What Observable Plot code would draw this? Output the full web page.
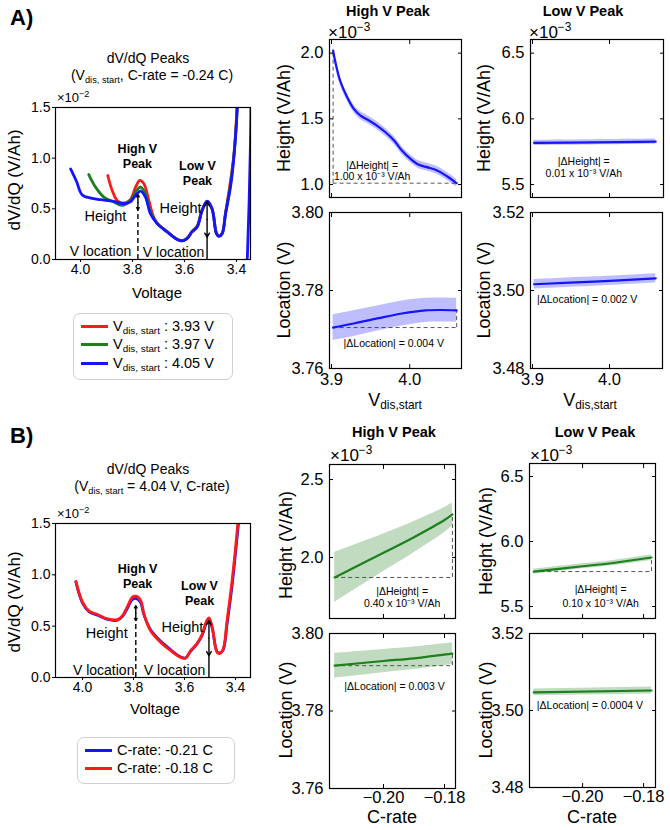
<!DOCTYPE html>
<html>
<head>
<meta charset="utf-8">
<script src="https://cdn.jsdelivr.net/npm/d3@7"></script>
<script src="https://cdn.jsdelivr.net/npm/@observablehq/plot@0.6"></script>
<style>
html,body{margin:0;padding:0;background:#fff;}
#root{position:relative;width:670px;height:830px;overflow:hidden;font-family:"Liberation Sans",Arial,Helvetica,sans-serif;color:#000;}
.t{position:absolute;white-space:nowrap;line-height:1.0;}
.t sub{font-size:0.66em;vertical-align:baseline;position:relative;top:0.28em;}
.t sup{font-size:0.7em;vertical-align:baseline;position:relative;top:-0.6em;}
.legend{position:absolute;border:1px solid #d0d0d0;border-radius:7px;background:#fff;box-sizing:border-box;}
.row{position:absolute;display:flex;align-items:center;font-size:14.5px;white-space:nowrap;line-height:1;}
.row sub{font-size:0.68em;vertical-align:baseline;position:relative;top:0.3em;}
.sw{display:inline-block;width:27px;height:3px;margin-right:5px;}
svg.p{position:absolute;overflow:visible;max-width:none;}
</style>
</head>
<body><div id="root"></div>
<script>
const FONT = '"Liberation Sans", Arial, Helvetica, sans-serif';
const colRed = "#ff1a1a", colGreen = "#1d7f1d", colBlue = "#1414ff";

// ---------- Panel A (left): dV/dQ (x10^-2 V/Ah) vs Voltage, C-rate = -0.24 C ----------
const curveA_393 = [[3.895,0.829],[3.878,0.681],[3.859,0.583],[3.833,0.557],[3.808,0.59],[3.788,0.714],[3.772,0.78],[3.756,0.747],[3.737,0.583],[3.72,0.43],[3.705,0.36],[3.667,0.278],[3.628,0.2],[3.609,0.186],[3.59,0.21],[3.571,0.278],[3.551,0.33],[3.532,0.49],[3.513,0.57],[3.494,0.5],[3.477,0.26],[3.468,0.232],[3.455,0.26],[3.442,0.46],[3.425,0.74],[3.41,1.03],[3.398,1.5],[3.392,2.0]];
const curveA_397 = [[3.968,0.838],[3.942,0.714],[3.91,0.616],[3.872,0.567],[3.84,0.534],[3.808,0.583],[3.782,0.688],[3.769,0.714],[3.75,0.649],[3.731,0.47],[3.705,0.357],[3.667,0.275],[3.628,0.199],[3.609,0.185],[3.59,0.208],[3.571,0.275],[3.551,0.325],[3.532,0.487],[3.513,0.573],[3.494,0.5],[3.477,0.257],[3.468,0.23],[3.455,0.257],[3.442,0.455],[3.424,0.725],[3.41,1.02],[3.397,1.5],[3.391,2.0]];
const curveA_405 = [[4.038,0.894],[4.015,0.77],[3.994,0.64],[3.96,0.605],[3.923,0.59],[3.872,0.573],[3.833,0.55],[3.808,0.57],[3.788,0.632],[3.769,0.675],[3.75,0.616],[3.731,0.452],[3.705,0.354],[3.667,0.272],[3.628,0.197],[3.609,0.183],[3.59,0.206],[3.571,0.272],[3.551,0.321],[3.532,0.485],[3.513,0.576],[3.494,0.501],[3.477,0.255],[3.468,0.229],[3.455,0.255],[3.442,0.452],[3.423,0.714],[3.41,1.009],[3.397,1.5],[3.39,2.6],[3.366,2.6],[3.363,-0.3]];
const legendA = ["3.93 V","3.97 V","4.05 V"];

// ---------- Panel B (left): dV/dQ vs Voltage, Vdis,start = 4.04 V ----------
const curveB_021 = [[4.026,0.93],[4.0,0.725],[3.974,0.64],[3.941,0.607],[3.902,0.565],[3.863,0.558],[3.843,0.595],[3.824,0.675],[3.804,0.76],[3.791,0.77],[3.772,0.73],[3.759,0.61],[3.733,0.465],[3.693,0.352],[3.654,0.27],[3.615,0.2],[3.596,0.19],[3.576,0.255],[3.55,0.33],[3.53,0.415],[3.513,0.54],[3.504,0.568],[3.491,0.48],[3.472,0.25],[3.461,0.24],[3.448,0.27],[3.433,0.52],[3.413,0.9],[3.393,1.38],[3.38,1.7]];
const curveB_018 = [[4.026,0.936],[4.0,0.734],[3.974,0.646],[3.941,0.613],[3.902,0.571],[3.863,0.564],[3.843,0.603],[3.824,0.691],[3.804,0.783],[3.791,0.792],[3.772,0.75],[3.759,0.62],[3.733,0.456],[3.693,0.342],[3.654,0.261],[3.615,0.196],[3.596,0.189],[3.576,0.261],[3.55,0.333],[3.53,0.424],[3.513,0.554],[3.504,0.58],[3.491,0.489],[3.472,0.245],[3.461,0.235],[3.448,0.277],[3.433,0.554],[3.413,0.946],[3.393,1.435],[3.385,1.7]];
const legendB = ["C-rate: -0.21 C","C-rate: -0.18 C"];

// ---------- Panel A right: peak metrics vs Vdis,start ----------
const vdisHighHeight = [3.902,3.905,3.911,3.92,3.9285,3.937,3.948,3.958,3.969,3.98,3.99,4.001,4.011,4.022,4.035,4.048,4.058,4.06];
const highHeightA = [2.02,1.93,1.79,1.665,1.576,1.525,1.487,1.449,1.398,1.335,1.259,1.195,1.152,1.132,1.107,1.061,1.018,1.01];
const highHeightAErr = [0.035,0.033,0.031,0.03,0.03,0.03,0.03,0.03,0.03,0.03,0.03,0.03,0.03,0.03,0.03,0.03,0.03,0.03];
const vdisHighLoc = [3.902,3.93,3.96,3.99,4.02,4.04,4.06];
const highLocA = [3.7705,3.7716,3.7729,3.7741,3.7749,3.775,3.7749];
const highLocAErr = [0.0033,0.0033,0.0032,0.0032,0.0031,0.0031,0.0031];
const vdisLow = [3.902,3.98,4.06];
const lowHeightA = [5.817,5.821,5.826];
const lowHeightAErr = [0.02,0.02,0.02];
const lowLocA = [3.5016,3.5023,3.5031];
const lowLocAErr = [0.0012,0.0012,0.0012];

// ---------- Panel B right: peak metrics vs C-rate ----------
const crateHigh = [-0.216,-0.2,-0.19,-0.18,-0.1774];
const highHeightB = [1.872,2.03,2.13,2.24,2.276];
const highHeightBErr = [0.16,0.12,0.1,0.08,0.073];
const crateHighLoc = [-0.216,-0.2,-0.19,-0.1774];
const highLocB = [3.7917,3.7929,3.7936,3.7948];
const highLocBErr = [0.0032,0.003,0.0029,0.0028];
const crateLowHeight = [-0.216,-0.2,-0.19,-0.1774];
const lowHeightB = [5.769,5.81,5.835,5.877];
const lowHeightBErr = [0.02,0.02,0.02,0.022];
const crateLowLoc = [-0.216,-0.1774];
const lowLocB = [3.5047,3.5052];
const lowLocBErr = [0.0009,0.0009];

// tick values
const voltTicks = [4.0,3.8,3.6,3.4];
const dvdqTicks = [0,0.5,1.0,1.5];
const vdisTicks = [3.9,4.0];
const crateTicks = [-0.20,-0.18];

const root = document.getElementById("root");
const f1 = d3.format(".1f"), f2 = d3.format(".2f");

function txt(html, x, y, o = {}) {
  const d = document.createElement("div");
  d.className = "t";
  d.innerHTML = html;
  d.style.left = x + "px"; d.style.top = y + "px";
  d.style.fontSize = (o.size || 14) + "px";
  if (o.bold) d.style.fontWeight = "bold";
  const tx = o.anchor === "start" ? "0" : o.anchor === "end" ? "-100%" : "-50%";
  d.style.transform = `translate(${tx},-50%)` + (o.rotate ? ` rotate(${o.rotate}deg)` : "");
  root.appendChild(d);
}

function panel(o) {
  const ml = o.ml ?? 48, mr = 8, mt = 8, mb = o.mb ?? 28;
  const W = o.x1 - o.x0 + ml + mr, H = o.y1 - o.y0 + mt + mb;
  const inward = o.inward !== false;
  const ts = inward ? -4 : 3;
  const fs = o.fs ?? 16.5;
  const blank = () => "";
  const marks = [
    ...o.marks,
    Plot.frame({stroke: "#000", strokeWidth: 1.2}),
    Plot.axisY({anchor: "left", ticks: o.yTicks, tickFormat: o.yFmt, tickSize: ts, tickPadding: o.yPad, label: null, fontSize: fs}),
    Plot.axisX({anchor: "bottom", ticks: o.xTicks, tickFormat: o.showX ? o.xFmt : blank, tickSize: ts, tickPadding: o.xPad, label: null, fontSize: fs})
  ];
  if (inward) {
    marks.push(
      Plot.axisY({anchor: "right", ticks: o.yTicks, tickFormat: blank, tickSize: ts, label: null}),
      Plot.axisX({anchor: "top", ticks: o.xTicks, tickFormat: blank, tickSize: ts, label: null})
    );
  }
  const svg = Plot.plot({
    width: W, height: H, marginLeft: ml, marginRight: mr, marginTop: mt, marginBottom: mb,
    x: {domain: o.xDomain}, y: {domain: o.yDomain},
    style: {fontFamily: FONT, fontSize: fs + "px", background: "transparent", color: "#000", overflow: "visible"},
    marks
  });
  svg.classList.add("p");
  svg.style.left = (o.x0 - ml) + "px";
  svg.style.top = (o.y0 - mt) + "px";
  root.appendChild(svg);
}

function rows(xs, ys, es) { return xs.map((x, i) => ({x, y: ys[i], lo: ys[i] - es[i], hi: ys[i] + es[i]})); }
function bandMarks(data, color) {
  return [
    Plot.areaY(data, {x: "x", y1: "lo", y2: "hi", fill: color, fillOpacity: 0.28, curve: "catmull-rom"}),
    Plot.line(data, {x: "x", y: "y", stroke: color, strokeWidth: 2.2, curve: "catmull-rom"})
  ];
}
function deltaMarks(xs, ys, vertAt) {
  const xmin = d3.min(xs), xmax = d3.max(xs), ymin = d3.min(ys);
  const xv = vertAt === "start" ? xs[0] : xs[xs.length - 1];
  const yv = vertAt === "start" ? ys[0] : ys[ys.length - 1];
  const dash = {stroke: "#555", strokeWidth: 1, strokeDasharray: "4,3"};
  return [
    Plot.ruleY([ymin], {x1: xmin, x2: xmax, ...dash}),
    Plot.ruleX([xv], {y1: ymin, y2: yv, ...dash})
  ];
}
const ann = (s, x, y, size = 10.5) => Plot.text([s], {x: () => x, y: () => y, text: d => d, fontSize: size, fill: "#000", textAnchor: "middle", lineAnchor: "middle"});

function peakAnnotations(hv, hvLow, hvTop, lv, lvLow, lvTop, labels) {
  const dash = {stroke: "#000", strokeWidth: 1.4};
  const hmid = (hvLow + hvTop) / 2, lmid = (lvLow + lvTop) / 2;
  return [
    Plot.ruleX([hv], {y1: 0, y2: hvLow, ...dash, strokeDasharray: "5,3"}),
    Plot.arrow([0], {x1: hv, y1: hmid, x2: hv, y2: hvTop, ...dash, headLength: 5}),
    Plot.arrow([0], {x1: hv, y1: hmid, x2: hv, y2: hvLow, ...dash, headLength: 5}),
    Plot.ruleX([lv], {y1: 0, y2: lvLow, ...dash}),
    Plot.arrow([0], {x1: lv, y1: lmid, x2: lv, y2: lvTop, ...dash, headLength: 5}),
    Plot.arrow([0], {x1: lv, y1: lmid, x2: lv, y2: lvLow, ...dash, headLength: 5}),
    ...labels.map(l => Plot.text([l.t], {x: () => l.x, y: () => l.y, text: d => d, fontSize: l.s, fontWeight: l.b ? "bold" : "normal", fill: "#000", textAnchor: "middle", lineAnchor: "middle", lineHeight: 1.2}))
  ];
}

// ================= Panel A left =================
panel({
  x0: 55, y0: 107, x1: 250, y1: 259, ml: 40, mb: 24, inward: false, fs: 14,
  xDomain: [4.096, 3.346], yDomain: [0, 1.5],
  xTicks: voltTicks, yTicks: dvdqTicks, xFmt: f1, yFmt: f1, showX: true, xPad: 2, yPad: 2,
  marks: [
    Plot.line(curveA_393, {x: d => d[0], y: d => d[1], stroke: colRed, strokeWidth: 2.8, curve: "catmull-rom", clip: true}),
    Plot.line(curveA_397, {x: d => d[0], y: d => d[1], stroke: colGreen, strokeWidth: 2.8, curve: "catmull-rom", clip: true}),
    Plot.line(curveA_405, {x: d => d[0], y: d => d[1], stroke: colBlue, strokeWidth: 2.8, curve: "catmull-rom", clip: true}),
    ...peakAnnotations(3.779, 0.49, 0.64, 3.513, 0.22, 0.57, [
      {t: "High V\nPeak", x: 3.781, y: 1.027, s: 12.5, b: true},
      {t: "Low V\nPeak", x: 3.55, y: 0.855, s: 12.5, b: true},
      {t: "Height", x: 3.904, y: 0.434, s: 14.5},
      {t: "Height", x: 3.615, y: 0.513, s: 14.5},
      {t: "V location", x: 3.923, y: 0.089, s: 14},
      {t: "V location", x: 3.642, y: 0.079, s: 14}
    ])
  ]
});

// ================= Panel B left =================
panel({
  x0: 55, y0: 523, x1: 250, y1: 677, ml: 40, mb: 24, inward: false, fs: 14,
  xDomain: [4.106, 3.341], yDomain: [0, 1.5],
  xTicks: voltTicks, yTicks: dvdqTicks, xFmt: f1, yFmt: f1, showX: true, xPad: 2, yPad: 2,
  marks: [
    Plot.line(curveB_021, {x: d => d[0], y: d => d[1], stroke: colBlue, strokeWidth: 2.8, curve: "catmull-rom", clip: true}),
    Plot.line(curveB_018, {x: d => d[0], y: d => d[1], stroke: colRed, strokeWidth: 2.8, curve: "catmull-rom", clip: true}),
    ...peakAnnotations(3.791, 0.554, 0.70, 3.504, 0.212, 0.554, [
      {t: "High V\nPeak", x: 3.784, y: 0.993, s: 12.5, b: true},
      {t: "Low V\nPeak", x: 3.541, y: 0.828, s: 12.5, b: true},
      {t: "Height", x: 3.905, y: 0.438, s: 14.5},
      {t: "Height", x: 3.608, y: 0.497, s: 14.5},
      {t: "V location", x: 3.917, y: 0.078, s: 14},
      {t: "V location", x: 3.639, y: 0.078, s: 14}
    ])
  ]
});

// ================= A: High V height =================
const rAhh = rows(vdisHighHeight, highHeightA, highHeightAErr);
panel({
  x0: 329, y0: 39, x1: 461, y1: 197,
  xDomain: [3.8974, 4.0662], yDomain: [0.901, 2.104],
  xTicks: vdisTicks, yTicks: [1.0, 1.5, 2.0], xFmt: f1, yFmt: f1, showX: false, xPad: 9, yPad: 10,
  marks: [...deltaMarks(vdisHighHeight, highHeightA, "start"), ...bandMarks(rAhh, colBlue),
    ann("|ΔHeight| =", 3.952, 1.145), ann("1.00 x 10⁻³ V/Ah", 3.952, 1.061)]
});
// A: High V location
const rAhl = rows(vdisHighLoc, highLocA, highLocAErr);
panel({
  x0: 329, y0: 212, x1: 461, y1: 368,
  xDomain: [3.8974, 4.0662], yDomain: [3.76, 3.80],
  xTicks: vdisTicks, yTicks: [3.76, 3.78, 3.80], xFmt: f1, yFmt: f2, showX: true, xPad: 9, yPad: 10,
  marks: [...deltaMarks(vdisHighLoc, highLocA, "end"), ...bandMarks(rAhl, colBlue),
    ann("|ΔLocation| = 0.004 V", 3.9796, 3.7665)]
});
// A: Low V height
const rAlh = rows(vdisLow, lowHeightA, lowHeightAErr);
panel({
  x0: 530, y0: 39, x1: 663, y1: 197,
  xDomain: [3.8974, 4.0701], yDomain: [5.401, 6.604],
  xTicks: vdisTicks, yTicks: [5.5, 6.0, 6.5], xFmt: f1, yFmt: f1, showX: false, xPad: 9, yPad: 10,
  marks: [...bandMarks(rAlh, colBlue),
    ann("|ΔHeight| =", 3.9666, 5.675), ann("0.01 x 10⁻³ V/Ah", 3.9666, 5.581)]
});
// A: Low V location
const rAll = rows(vdisLow, lowLocA, lowLocAErr);
panel({
  x0: 530, y0: 212, x1: 662, y1: 368,
  xDomain: [3.8974, 4.0688], yDomain: [3.48, 3.52],
  xTicks: vdisTicks, yTicks: [3.48, 3.50, 3.52], xFmt: f1, yFmt: f2, showX: true, xPad: 9, yPad: 10,
  marks: [...bandMarks(rAll, colBlue), ann("|ΔLocation| = 0.002 V", 3.971, 3.4976)]
});

// ================= B: High V height =================
const rBhh = rows(crateHigh, highHeightB, highHeightBErr);
panel({
  x0: 329, y0: 464, x1: 455, y1: 618,
  xDomain: [-0.2177, -0.1764], yDomain: [1.609, 2.596],
  xTicks: crateTicks, yTicks: [2.0, 2.5], xFmt: f2, yFmt: f1, showX: false, xPad: 9, yPad: 10,
  marks: [...deltaMarks(crateHigh, highHeightB, "end"), ...bandMarks(rBhh, colGreen),
    ann("|ΔHeight| =", -0.1939, 1.784), ann("0.40 x 10⁻³ V/Ah", -0.1939, 1.703)]
});
// B: High V location
const rBhl = rows(crateHighLoc, highLocB, highLocBErr);
panel({
  x0: 329, y0: 633, x1: 455, y1: 788,
  xDomain: [-0.2177, -0.1764], yDomain: [3.76, 3.80],
  xTicks: crateTicks, yTicks: [3.76, 3.78, 3.80], xFmt: f2, yFmt: f2, showX: true, xPad: 7, yPad: 10,
  marks: [...deltaMarks(crateHighLoc, highLocB, "end"), ...bandMarks(rBhl, colGreen),
    ann("|ΔLocation| = 0.003 V", -0.1964, 3.7863)]
});
// B: Low V height
const rBlh = rows(crateLowHeight, lowHeightB, lowHeightBErr);
panel({
  x0: 529, y0: 463, x1: 655, y1: 618,
  xDomain: [-0.2174, -0.1761], yDomain: [5.408, 6.6],
  xTicks: crateTicks, yTicks: [5.5, 6.0, 6.5], xFmt: f2, yFmt: f1, showX: false, xPad: 9, yPad: 10,
  marks: [...deltaMarks(crateLowHeight, lowHeightB, "end"), ...bandMarks(rBlh, colGreen),
    ann("|ΔHeight| =", -0.1941, 5.628), ann("0.10 x 10⁻³ V/Ah", -0.1941, 5.525)]
});
// B: Low V location
const rBll = rows(crateLowLoc, lowLocB, lowLocBErr);
panel({
  x0: 529, y0: 633, x1: 655, y1: 787,
  xDomain: [-0.2174, -0.1761], yDomain: [3.48, 3.52],
  xTicks: crateTicks, yTicks: [3.48, 3.50, 3.52], xFmt: f2, yFmt: f2, showX: true, xPad: 7, yPad: 10,
  marks: [...bandMarks(rBll, colGreen), ann("|ΔLocation| = 0.0004 V", -0.1976, 3.5013)]
});

// ================= Text: labels & titles =================
txt("A)", 10, 18, {size: 22, bold: true, anchor: "start"});
txt("B)", 10, 436, {size: 22, bold: true, anchor: "start"});

txt("dV/dQ Peaks", 148, 58, {size: 14});
txt("(V<sub>dis, start</sub>, C-rate = -0.24 C)", 152, 75, {size: 14});
txt("×10<sup>−2</sup>", 57, 98, {size: 13, anchor: "start"});
txt("dV/dQ (V/Ah)", 14, 180, {size: 17, rotate: -90});
txt("Voltage", 157, 292, {size: 15});

txt("dV/dQ Peaks", 148, 469, {size: 14});
txt("(V<sub>dis, start</sub> = 4.04 V, C-rate)", 152, 486, {size: 14});
txt("×10<sup>−2</sup>", 57, 514, {size: 13, anchor: "start"});
txt("dV/dQ (V/Ah)", 14, 602, {size: 17, rotate: -90});
txt("Voltage", 155, 708, {size: 15});

txt("High V Peak", 388, 11, {size: 14.5, bold: true});
txt("Low V Peak", 583, 11, {size: 14.5, bold: true});
txt("×10<sup>−3</sup>", 328, 32, {size: 17, anchor: "start"});
txt("×10<sup>−3</sup>", 529, 32, {size: 17, anchor: "start"});
txt("Height (V/Ah)", 284, 118, {size: 18, rotate: -90});
txt("Location (V)", 284, 290, {size: 18, rotate: -90});
txt("Height (V/Ah)", 484, 118, {size: 18, rotate: -90});
txt("Location (V)", 484, 290, {size: 18, rotate: -90});
txt("V<sub>dis,start</sub>", 395, 400, {size: 18});
txt("V<sub>dis,start</sub>", 590, 400, {size: 18});

txt("High V Peak", 394, 432, {size: 14.5, bold: true});
txt("Low V Peak", 595, 432, {size: 14.5, bold: true});
txt("×10<sup>−3</sup>", 330, 455, {size: 17, anchor: "start"});
txt("×10<sup>−3</sup>", 530, 455, {size: 17, anchor: "start"});
txt("Height (V/Ah)", 286, 545, {size: 18, rotate: -90});
txt("Location (V)", 286, 710, {size: 18, rotate: -90});
txt("Height (V/Ah)", 486, 541, {size: 18, rotate: -90});
txt("Location (V)", 486, 710, {size: 18, rotate: -90});
txt("C-rate", 392, 817, {size: 18});
txt("C-rate", 592, 817, {size: 18});

// ================= Legends =================
function legend(x, y, w, h, entries) {
  const box = document.createElement("div");
  box.className = "legend";
  Object.assign(box.style, {left: x + "px", top: y + "px", width: w + "px", height: h + "px"});
  entries.forEach(e => {
    const r = document.createElement("div");
    r.className = "row";
    r.style.left = e.lx + "px";
    r.style.top = (e.ty - 8) + "px";
    r.style.height = "16px";
    r.innerHTML = `<span class="sw" style="background:${e.color}"></span><span>${e.html}</span>`;
    box.appendChild(r);
  });
  root.appendChild(box);
}
legend(73, 313, 160, 67, [
  {color: colRed, html: `V<sub>dis, start</sub> : ${legendA[0]}`, lx: 7, ty: 12},
  {color: colGreen, html: `V<sub>dis, start</sub> : ${legendA[1]}`, lx: 7, ty: 30},
  {color: colBlue, html: `V<sub>dis, start</sub> : ${legendA[2]}`, lx: 7, ty: 49}
]);
legend(77, 737, 158, 47, [
  {color: colBlue, html: legendB[0], lx: 7, ty: 12},
  {color: colRed, html: legendB[1], lx: 7, ty: 30}
]);
</script>
</body>
</html>
